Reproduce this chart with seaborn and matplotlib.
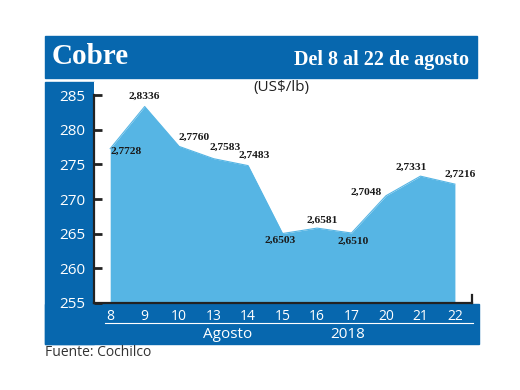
import numpy as np
import pandas as pd
import seaborn as sns
import matplotlib.pyplot as plt
from matplotlib.patches import Rectangle
from matplotlib.lines import Line2D

# Data: copper price (US$/lb), 8-22 August 2018
days = ["8", "9", "10", "13", "14", "15", "16", "17", "20", "21", "22"]
prices = [2.7728, 2.8336, 2.7760, 2.7583, 2.7483, 2.6503, 2.6581, 2.6510, 2.7048, 2.7331, 2.7216]
yticks = [255, 260, 265, 270, 275, 280, 285]

# label offsets in pixels (dx, dy) relative to each point
label_offsets = [(16, -3), (0, 10), (15, 9), (12, 11), (6, 10), (-2, -7),
                 (5, 8), (2, -8), (-20, 3), (-9, 9), (5, 10)]

df = pd.DataFrame({"x": np.arange(len(days)), "cents": [p * 100 for p in prices]})

dark_blue = "#0767ae"
area_blue = "#56b5e4"

W, H = 520, 390
fig = plt.figure(figsize=(W / 100, H / 100), dpi=100)


def fx(px):
    return px / W


def fy(py):
    return 1 - py / H


# blue frame pieces: header, left column, bottom band
fig.patches.append(Rectangle((fx(45), fy(78)), fx(477 - 45), (78 - 36) / H,
                             transform=fig.transFigure, color=dark_blue, zorder=0))
fig.patches.append(Rectangle((fx(45), fy(344)), fx(94 - 45), (344 - 82) / H,
                             transform=fig.transFigure, color=dark_blue, zorder=0))
fig.patches.append(Rectangle((fx(45), fy(344)), fx(479 - 45), (344 - 304) / H,
                             transform=fig.transFigure, color=dark_blue, zorder=0))

ax = fig.add_axes([fx(94), fy(303), fx(478 - 94), (303 - 82) / H])
ax.set_facecolor("white")
ax.set_zorder(2)

sns.lineplot(data=df, x="x", y="cents", ax=ax, color=area_blue, linewidth=0.8)
ax.fill_between(df["x"], 255, df["cents"], color=area_blue, linewidth=0)

ax.set_xlim(-0.47, 10.67)
ax.set_ylim(255, 286.9)
ax.set_xlabel("")
ax.set_ylabel("")

for s in ["top", "right"]:
    ax.spines[s].set_visible(False)
ax.spines["left"].set_bounds(255, 285)
ax.spines["bottom"].set_bounds(-0.47, 10.5)
for s in ["left", "bottom"]:
    ax.spines[s].set_color("#222222")
    ax.spines[s].set_linewidth(1.6)
ax.plot([10.5, 10.5], [255, 256.1], color="#222222", lw=1.6, clip_on=False)

ax.set_yticks(yticks)
ax.set_yticklabels([str(v) for v in yticks])
ax.tick_params(axis="y", direction="in", length=6, width=2, color="#222222",
               labelcolor="white", labelsize=11, pad=6)
ax.set_xticks(df["x"])
ax.set_xticklabels(days)
ax.tick_params(axis="x", length=0, labelcolor="white", labelsize=10, pad=4)
for lab in ax.get_xticklabels() + ax.get_yticklabels():
    lab.set_family(["Open Sans", "DejaVu Sans"])

# value labels
for i, (p, c) in enumerate(zip(prices, df["cents"])):
    dx, dy = label_offsets[i]
    ax.annotate(f"{p:.4f}".replace(".", ","), (i, c), xytext=(dx * 0.72, dy * 0.72),
                textcoords="offset points", ha="center", va="center", fontsize=8.2,
                family=["Liberation Serif", "DejaVu Serif"], fontweight="bold",
                color="#1a1a1a", annotation_clip=False)

# header texts
fig.text(fx(52), fy(57), "Cobre", color="white", fontsize=21, fontweight="bold",
         family=["Liberation Serif", "DejaVu Serif"], va="center", ha="left")
fig.text(fx(469), fy(60), "Del 8 al 22 de agosto", color="white", fontsize=14.5,
         fontweight="bold", family=["Liberation Serif", "DejaVu Serif"], va="center", ha="right")
fig.text(fx(281), fy(87), "(US$/lb)", color="#222222", fontsize=11,
         family=["Open Sans", "DejaVu Sans"], va="center", ha="center")

# bottom band
fig.lines.append(Line2D([fx(105), fx(473)], [fy(323), fy(323)], transform=fig.transFigure,
                        color="white", lw=0.8))
fig.text(fx(228), fy(334), "Agosto", color="white", fontsize=11,
         family=["Open Sans", "DejaVu Sans"], va="center", ha="center")
fig.text(fx(348), fy(334), "2018", color="white", fontsize=11,
         family=["Open Sans", "DejaVu Sans"], va="center", ha="center")
fig.text(fx(45), fy(353), "Fuente: Cochilco", color="#333333", fontsize=10,
         family=["Open Sans", "DejaVu Sans"], va="center", ha="left")

fig.savefig("out.png", dpi=100)
